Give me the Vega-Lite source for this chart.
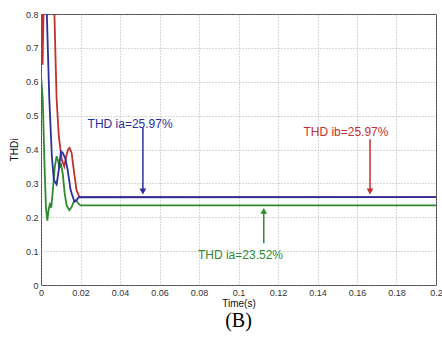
{
  "$schema": "https://vega.github.io/schema/vega-lite/v6.json",
  "width": 395,
  "height": 271,
  "autosize": {"type": "none"},
  "padding": {"left": 41, "top": 14, "right": 6, "bottom": 53},
  "background": "white",
  "config": {
    "view": {"stroke": "#444", "strokeWidth": 1},
    "axis": {
      "labelFont": "Liberation Sans",
      "labelFontSize": 9,
      "labelColor": "#333",
      "titleFont": "Liberation Sans",
      "titleFontSize": 10,
      "titleFontWeight": "normal",
      "titleColor": "#111",
      "grid": true,
      "gridColor": "#999",
      "gridDash": [1, 2],
      "gridWidth": 0.8,
      "domain": false,
      "ticks": false
    }
  },
  "title": {
    "text": "(B)",
    "orient": "bottom",
    "font": "Liberation Serif",
    "fontSize": 20,
    "fontWeight": "normal",
    "color": "#000",
    "offset": 3,
    "anchor": "middle"
  },
  "datasets": {
    "curves": [
      {"s": "ib", "t": 0, "v": 0.95},
      {"s": "ib", "t": 0.0008, "v": 0.65},
      {"s": "ib", "t": 0.0016, "v": 0.9},
      {"s": "ib", "t": 0.004, "v": 1.1},
      {"s": "ib", "t": 0.0062, "v": 0.9},
      {"s": "ib", "t": 0.0068, "v": 0.8},
      {"s": "ib", "t": 0.0074, "v": 0.66},
      {"s": "ib", "t": 0.0079, "v": 0.55},
      {"s": "ib", "t": 0.009, "v": 0.44},
      {"s": "ib", "t": 0.0105, "v": 0.37},
      {"s": "ib", "t": 0.0118, "v": 0.35},
      {"s": "ib", "t": 0.0128, "v": 0.38},
      {"s": "ib", "t": 0.0137, "v": 0.4},
      {"s": "ib", "t": 0.0145, "v": 0.405},
      {"s": "ib", "t": 0.0155, "v": 0.39},
      {"s": "ib", "t": 0.0168, "v": 0.33},
      {"s": "ib", "t": 0.018, "v": 0.28},
      {"s": "ib", "t": 0.0194, "v": 0.26},
      {"s": "ib", "t": 0.2, "v": 0.2597},
      {"s": "ic", "t": 0, "v": 0.62},
      {"s": "ic", "t": 0.0009, "v": 0.546},
      {"s": "ic", "t": 0.0018, "v": 0.35},
      {"s": "ic", "t": 0.0025, "v": 0.23},
      {"s": "ic", "t": 0.0032, "v": 0.19},
      {"s": "ic", "t": 0.0038, "v": 0.22},
      {"s": "ic", "t": 0.0046, "v": 0.242},
      {"s": "ic", "t": 0.0052, "v": 0.228},
      {"s": "ic", "t": 0.006, "v": 0.28},
      {"s": "ic", "t": 0.007, "v": 0.35},
      {"s": "ic", "t": 0.0079, "v": 0.38},
      {"s": "ic", "t": 0.0087, "v": 0.365},
      {"s": "ic", "t": 0.0093, "v": 0.345},
      {"s": "ic", "t": 0.01, "v": 0.36},
      {"s": "ic", "t": 0.011, "v": 0.33},
      {"s": "ic", "t": 0.012, "v": 0.27},
      {"s": "ic", "t": 0.013, "v": 0.235},
      {"s": "ic", "t": 0.0143, "v": 0.221},
      {"s": "ic", "t": 0.0155, "v": 0.23},
      {"s": "ic", "t": 0.0165, "v": 0.245},
      {"s": "ic", "t": 0.0177, "v": 0.251},
      {"s": "ic", "t": 0.019, "v": 0.24},
      {"s": "ic", "t": 0.02, "v": 0.2352},
      {"s": "ic", "t": 0.2, "v": 0.2352},
      {"s": "ia", "t": 0, "v": 1.0},
      {"s": "ia", "t": 0.0025, "v": 0.9},
      {"s": "ia", "t": 0.0032, "v": 0.75},
      {"s": "ia", "t": 0.0042, "v": 0.55},
      {"s": "ia", "t": 0.0055, "v": 0.38},
      {"s": "ia", "t": 0.0065, "v": 0.31},
      {"s": "ia", "t": 0.0079, "v": 0.297},
      {"s": "ia", "t": 0.009, "v": 0.34},
      {"s": "ia", "t": 0.0101, "v": 0.394},
      {"s": "ia", "t": 0.011, "v": 0.39},
      {"s": "ia", "t": 0.0123, "v": 0.374},
      {"s": "ia", "t": 0.0135, "v": 0.34},
      {"s": "ia", "t": 0.015, "v": 0.28},
      {"s": "ia", "t": 0.0169, "v": 0.246},
      {"s": "ia", "t": 0.018, "v": 0.25},
      {"s": "ia", "t": 0.019, "v": 0.259},
      {"s": "ia", "t": 0.2, "v": 0.2597}
    ],
    "labels": [
      {"s": "ia", "t": 0.0451, "v": 0.475, "label": "THD ia=25.97%"},
      {"s": "ib", "t": 0.1544, "v": 0.451, "label": "THD ib=25.97%"},
      {"s": "ic", "t": 0.101, "v": 0.0886, "label": "THD ia=23.52%"}
    ],
    "arrows": [
      {"s": "ia", "t": 0.0516, "v1": 0.465, "v2": 0.275, "head": 0.276, "dir": "down"},
      {"s": "ib", "t": 0.1666, "v1": 0.43, "v2": 0.275, "head": 0.276, "dir": "down"},
      {"s": "ic", "t": 0.1128, "v1": 0.123, "v2": 0.22, "head": 0.219, "dir": "up"}
    ]
  },
  "layer": [
    {
      "data": {"name": "curves"},
      "mark": {"type": "line", "strokeWidth": 1.8, "clip": true},
      "encoding": {
        "x": {
          "field": "t", "type": "quantitative",
          "scale": {"domain": [0, 0.2], "nice": false},
          "axis": {"title": "Time(s)", "values": [0, 0.02, 0.04, 0.06, 0.08, 0.1, 0.12, 0.14, 0.16, 0.18, 0.2], "tickCount": 30, "format": "~g", "labelOverlap": false, "labelFlush": false, "labelPadding": 3, "titlePadding": 1}
        },
        "y": {
          "field": "v", "type": "quantitative",
          "scale": {"domain": [0, 0.8], "nice": false},
          "axis": {"title": "THDi", "values": [0, 0.1, 0.2, 0.3, 0.4, 0.5, 0.6, 0.7, 0.8], "tickCount": 30, "format": "~g", "labelOverlap": false, "labelFlush": false, "labelPadding": 3, "titlePadding": 6}
        },
        "color": {
          "field": "s", "type": "nominal",
          "scale": {"domain": ["ia", "ib", "ic"], "range": ["#2b2f9e", "#c0312f", "#2f8a2f"]},
          "legend": null
        },
        "order": {"field": "t", "type": "quantitative"},
        "detail": {"field": "s"}
      }
    },
    {
      "data": {"name": "arrows"},
      "mark": {"type": "rule", "strokeWidth": 1.5},
      "encoding": {
        "x": {"field": "t", "type": "quantitative"},
        "y": {"field": "v1", "type": "quantitative"},
        "y2": {"field": "v2"},
        "color": {"field": "s", "type": "nominal", "legend": null}
      }
    },
    {
      "data": {"name": "arrows"},
      "mark": {"type": "point", "filled": true, "size": 45, "opacity": 1},
      "encoding": {
        "x": {"field": "t", "type": "quantitative"},
        "y": {"field": "head", "type": "quantitative"},
        "shape": {"field": "dir", "type": "nominal", "scale": {"domain": ["down", "up"], "range": ["triangle-down", "triangle-up"]}, "legend": null},
        "color": {"field": "s", "type": "nominal", "legend": null}
      }
    },
    {
      "data": {"name": "labels"},
      "mark": {"type": "text", "font": "Liberation Sans", "fontSize": 12, "align": "center", "baseline": "middle"},
      "encoding": {
        "x": {"field": "t", "type": "quantitative"},
        "y": {"field": "v", "type": "quantitative"},
        "text": {"field": "label"},
        "color": {"field": "s", "type": "nominal", "legend": null}
      }
    }
  ]
}
